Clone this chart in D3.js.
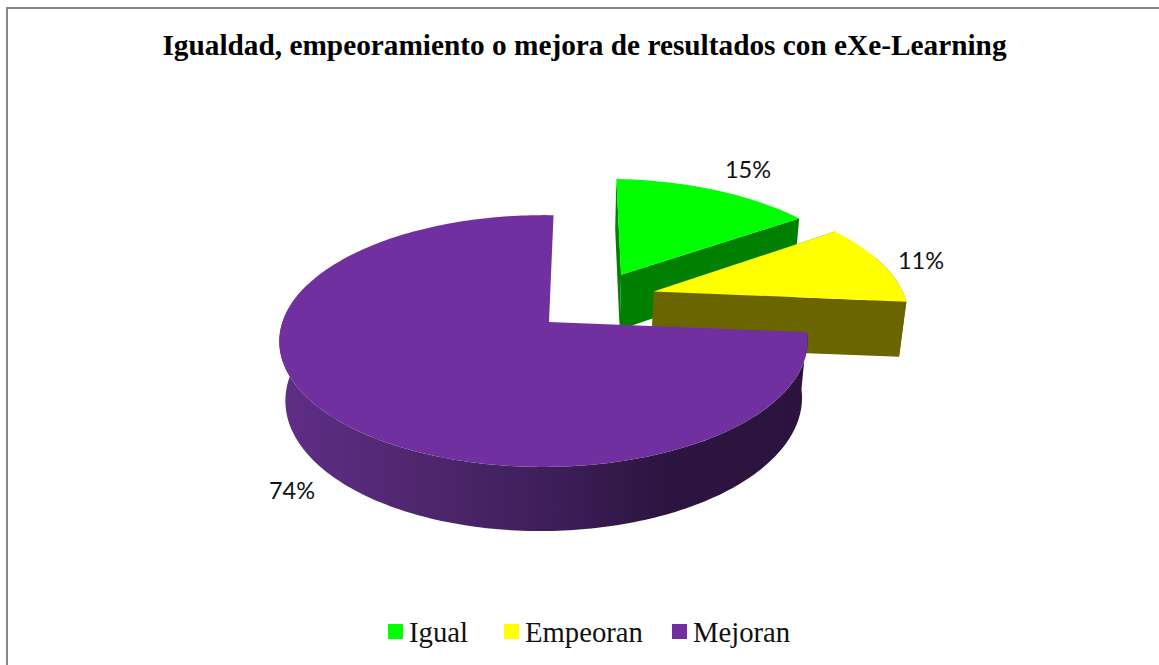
<!DOCTYPE html>
<html>
<head>
<meta charset="utf-8">
<script src="https://cdn.jsdelivr.net/npm/d3@7"></script>
<style>
  html, body { margin: 0; padding: 0; background: #fff; }
  svg { display: block; }
</style>
</head>
<body>
<div id="chart"></div>
<script>
// Chart data
const categories = ["Igual", "Empeoran", "Mejoran"];
const percents = [15, 11, 74];
const chartTitle = "Igualdad, empeoramiento o mejora de resultados con eXe-Learning";

const width = 1159, height = 665;

// Colours per slice: top face and radial wall
const topColors = ["#00ff00", "#ffff00", "#7030a0"];
const wallColors = ["#008000", "#6b6500", "#2c1440"];

// How far each slice is pulled out of the pie, in pie-plane units
const pullOut = [[0.295, -0.41], [0.42, -0.26], [0, 0]];
const sliceScale = [1.01, 1.03, 1];

// Perspective of the pie plane
const apexX = 549, apexY = 322;
const radiusX = 261, radiusY = 123;
const tiltP = 0.151, tiltR = 0.0208;
const depth = 59, depthShrink = 0.022;
const rotation = 0.02;

const svg = d3.select("#chart").append("svg")
    .attr("width", width)
    .attr("height", height);

svg.append("rect").attr("width", width).attr("height", height).attr("fill", "#fff");

// Frame: only the top and left edges show in the picture
svg.append("path")
    .attr("d", "M7,665V8H1159")
    .attr("fill", "none")
    .attr("stroke", "#868686")
    .attr("stroke-width", 2);

// Side gradient of the big slice
const defs = svg.append("defs");
const sideGradient = defs.append("linearGradient")
    .attr("id", "side")
    .attr("gradientUnits", "userSpaceOnUse")
    .attr("x1", 280).attr("x2", 808).attr("y1", 0).attr("y2", 0);
[[0, "#5f2e88"], [0.25, "#50276f"], [0.5, "#3f1f5a"], [0.72, "#2d1541"], [1, "#2a133d"]].forEach(s => {
    sideGradient.append("stop").attr("offset", s[0]).attr("stop-color", s[1]);
});

// Point of the pie plane to screen, z = 0 top face, z = 1 bottom face
function project(u, v, z) {
    const w = 1 - tiltP * v + tiltR * u + depthShrink * z;
    return [apexX + radiusX * u / w, apexY + (radiusY * v + depth * z) / w];
}

// Sample the rim of a slice between two angles
function rim(a0, a1, off, scale, z) {
    const n = Math.max(2, Math.ceil((a1 - a0) / 0.02));
    return d3.range(n + 1).map(i => {
        const a = a0 + (a1 - a0) * i / n;
        return project(off[0] + scale * Math.sin(a), off[1] - scale * Math.cos(a), z);
    });
}

const line = d3.line();
const pie = d3.pie().sort(null).value(d => d)
    .startAngle(rotation)
    .endAngle(2 * Math.PI + rotation);
const arcs = pie(percents);

const pieGroup = svg.append("g");

arcs.forEach((d, i) => {
    const off = pullOut[i];
    const scale = sliceScale[i];
    const g = pieGroup.append("g");
    const apexTop = project(off[0], off[1], 0);
    const apexBottom = project(off[0], off[1], 1);
    const rimTop = rim(d.startAngle, d.endAngle, off, scale, 0);
    const rimBottom = rim(d.startAngle, d.endAngle, off, scale, 1);

    // outer wall, front half of the rim only
    const frontFrom = Math.max(d.startAngle, Math.PI * 0.4);
    const frontTo = Math.min(d.endAngle, Math.PI * 1.6);
    if (frontFrom < frontTo) {
        const wallTop = rim(frontFrom, frontTo, off, scale, 0);
        const wallBottom = rim(frontFrom, frontTo, off, scale, 1);
        g.append("path")
            .attr("d", line(wallTop.concat(wallBottom.reverse())) + "Z")
            .attr("fill", i === 2 ? "url(#side)" : wallColors[i]);
    }

    // radial walls, only the two small slices show them
    if (i < 2) {
        g.append("path")
            .attr("d", line([apexTop, rimTop[rimTop.length - 1], rimBottom[rimBottom.length - 1], apexBottom]) + "Z")
            .attr("fill", wallColors[i]);
        g.append("path")
            .attr("d", line([apexTop, rimTop[0], rimBottom[0], apexBottom]) + "Z")
            .attr("fill", wallColors[i]);
    }

    // top face
    g.append("path")
        .attr("d", line([apexTop].concat(rimTop)) + "Z")
        .attr("fill", topColors[i]);
});

// Title
svg.append("text")
    .attr("x", 584.5)
    .attr("y", 55)
    .attr("text-anchor", "middle")
    .attr("font-family", "'Liberation Serif', serif")
    .attr("font-weight", "bold")
    .attr("font-size", 29.3)
    .text(chartTitle);

// Percent labels
const labelPos = [[748, 178], [921, 269], [292, 499]];
svg.append("g").selectAll("text")
    .data(percents)
    .enter()
    .append("text")
    .attr("x", (d, i) => labelPos[i][0])
    .attr("y", (d, i) => labelPos[i][1])
    .attr("text-anchor", "middle")
    .attr("font-family", "Lato, sans-serif")
    .attr("font-size", 23.5)
    .attr("fill", "#111")
    .text(d => d + "%");

// Legend
const legendX = [388, 504, 672];
const legend = svg.append("g").selectAll("g")
    .data(categories)
    .enter()
    .append("g")
    .attr("transform", (d, i) => `translate(${legendX[i]},624)`);

legend.append("rect")
    .attr("width", 15)
    .attr("height", 15)
    .attr("fill", (d, i) => topColors[i]);

legend.append("text")
    .attr("x", 21)
    .attr("y", 18)
    .attr("font-family", "'Liberation Serif', serif")
    .attr("font-size", 28.7)
    .attr("fill", "#111")
    .text(d => d);
</script>
</body>
</html>
